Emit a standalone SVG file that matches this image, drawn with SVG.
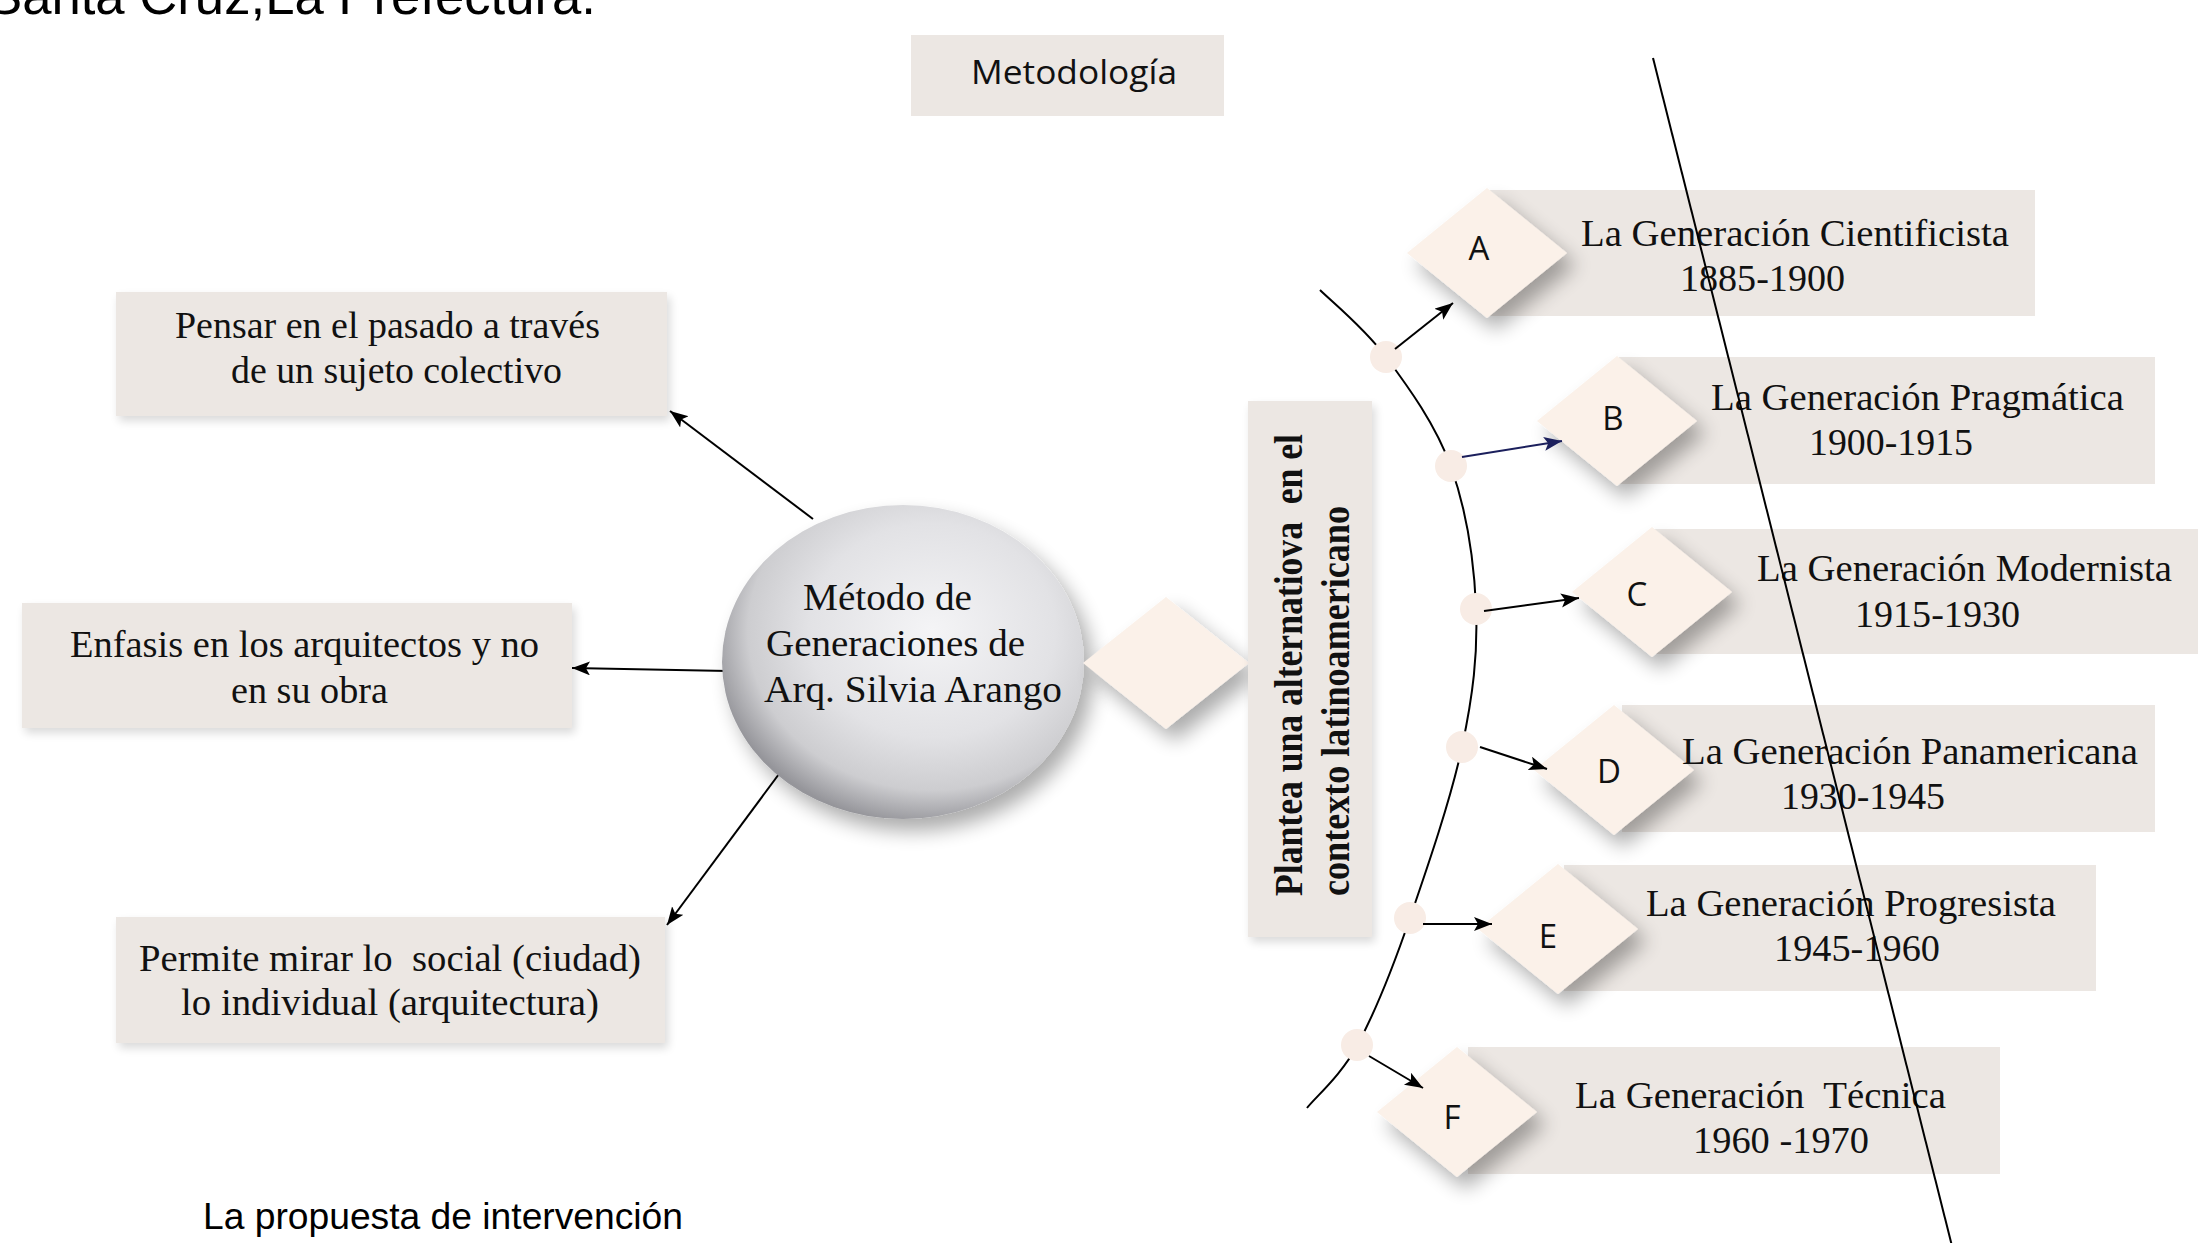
<svg xmlns="http://www.w3.org/2000/svg" width="2198" height="1243" viewBox="0 0 2198 1243">
<defs>
<style>
.box{fill:#ece7e3}
.dia{fill:#fbf1e9}
.ser{font-family:"Liberation Serif","Times New Roman",serif;font-size:38px;fill:#111}
.sans{font-family:"Open Sans","Noto Sans",sans-serif;font-size:33px;fill:#111}
.let{font-family:"Open Sans","Noto Sans",sans-serif;font-size:33px;fill:#111;text-anchor:middle}
.vt{font-family:"Liberation Serif","Times New Roman",serif;font-size:39px;font-weight:bold;fill:#111}
.ln{stroke:#000;stroke-width:2;fill:none}
.dot{fill:#f8ece5}
</style>
<filter id="sh" x="-30%" y="-30%" width="170%" height="180%">
<feGaussianBlur in="SourceAlpha" stdDeviation="10"/>
<feOffset dx="9" dy="12" result="o"/>
<feComponentTransfer><feFuncA type="linear" slope="0.33"/></feComponentTransfer>
<feMerge><feMergeNode/><feMergeNode in="SourceGraphic"/></feMerge>
</filter>
<filter id="sh2" x="-20%" y="-20%" width="140%" height="145%">
<feGaussianBlur in="SourceAlpha" stdDeviation="5"/>
<feOffset dx="3" dy="5"/>
<feComponentTransfer><feFuncA type="linear" slope="0.15"/></feComponentTransfer>
<feMerge><feMergeNode/><feMergeNode in="SourceGraphic"/></feMerge>
</filter>
<radialGradient id="eg" cx="0.58" cy="0.4" r="0.62">
<stop offset="0" stop-color="#f4f4f6"/>
<stop offset="0.55" stop-color="#e2e2e5"/>
<stop offset="0.82" stop-color="#cdcdd0"/>
<stop offset="1" stop-color="#95959a"/>
</radialGradient>
<marker id="ah" markerUnits="userSpaceOnUse" markerWidth="20" markerHeight="16" refX="18" refY="7" orient="auto">
<path d="M0,0 L18,7 L0,14 L4,7 z" fill="#000"/>
</marker>
<marker id="ahb" markerUnits="userSpaceOnUse" markerWidth="20" markerHeight="16" refX="18" refY="7" orient="auto">
<path d="M0,0 L18,7 L0,14 L4,7 z" fill="#1b1f5c"/>
</marker>
</defs>

<rect x="0" y="0" width="2198" height="1243" fill="#fff"/>

<g id="title">
<text x="-13" y="14" font-family="'Liberation Sans',Arial,sans-serif" font-size="52" textLength="609" lengthAdjust="spacingAndGlyphs" fill="#000">Santa Cruz,La Prefectura.</text>
</g>

<g id="metodologia">
<rect class="box" x="911" y="35" width="313" height="81"/>
<text class="sans" x="971" y="84" textLength="206" lengthAdjust="spacingAndGlyphs">Metodología</text>
</g>

<g id="pensar">
<rect class="box" x="116" y="292" width="551" height="124" filter="url(#sh2)"/>
<text class="ser" x="175" y="338" textLength="425" lengthAdjust="spacingAndGlyphs">Pensar en el pasado a través</text>
<text class="ser" x="231" y="383" textLength="331" lengthAdjust="spacingAndGlyphs">de un sujeto colectivo</text>
</g>

<g id="enfasis">
<rect class="box" x="22" y="603" width="550" height="125" filter="url(#sh2)"/>
<text class="ser" x="70" y="657" textLength="469" lengthAdjust="spacingAndGlyphs">Enfasis en los arquitectos y no</text>
<text class="ser" x="231" y="703" textLength="157" lengthAdjust="spacingAndGlyphs">en su obra</text>
</g>

<g id="permite">
<rect class="box" x="116" y="917" width="549" height="126" filter="url(#sh2)"/>
<text class="ser" x="139" y="971" textLength="502" lengthAdjust="spacingAndGlyphs" xml:space="preserve">Permite mirar lo  social (ciudad)</text>
<text class="ser" x="181" y="1015" textLength="418" lengthAdjust="spacingAndGlyphs">lo individual (arquitectura)</text>
</g>

<g id="connectors">
<line class="ln" x1="813" y1="519" x2="670" y2="411" marker-end="url(#ah)"/>
<line class="ln" x1="728" y1="671" x2="572" y2="668" marker-end="url(#ah)"/>
<line class="ln" x1="779" y1="774" x2="667" y2="925" marker-end="url(#ah)"/>
</g>

<g id="metodo">
<ellipse cx="903" cy="662" rx="181" ry="157" fill="url(#eg)" filter="url(#sh)"/>
<text class="ser" x="803" y="610" font-size="39" textLength="169" lengthAdjust="spacingAndGlyphs">Método de</text>
<text class="ser" x="766" y="656" font-size="39" textLength="259" lengthAdjust="spacingAndGlyphs">Generaciones de</text>
<text class="ser" x="764" y="702" font-size="39" textLength="298" lengthAdjust="spacingAndGlyphs">Arq. Silvia Arango</text>
</g>

<g id="hub">
<polygon class="dia" points="1166,597 1249,663 1166,729 1083,663" filter="url(#sh)"/>
</g>

<g id="plantea">
<rect class="box" x="1248" y="401" width="124" height="536" filter="url(#sh2)"/>
<text class="vt" transform="translate(1302,896) rotate(-90)" textLength="462" lengthAdjust="spacingAndGlyphs" xml:space="preserve">Plantea una alternatiova  en el</text>
<text class="vt" transform="translate(1349,896) rotate(-90)" textLength="390" lengthAdjust="spacingAndGlyphs">contexto latinoamericano</text>
</g>

<g id="gen-a">
<rect class="box" x="1490" y="190" width="545" height="126"/>
<polygon class="dia" points="1487,188 1567,253 1487,318 1407,253" filter="url(#sh)"/>
<text class="let" x="1479" y="260">A</text>
<text class="ser" x="1581" y="246" textLength="428" lengthAdjust="spacingAndGlyphs">La Generación Cientificista</text>
<text class="ser" x="1680" y="291" textLength="165" lengthAdjust="spacingAndGlyphs">1885-1900</text>
</g>

<g id="gen-b">
<rect class="box" x="1619" y="357" width="536" height="127"/>
<polygon class="dia" points="1617,356 1697,421 1617,486 1537,421" filter="url(#sh)"/>
<text class="let" x="1613" y="430">B</text>
<text class="ser" x="1711" y="410" textLength="413" lengthAdjust="spacingAndGlyphs">La Generación Pragmática</text>
<text class="ser" x="1809" y="455" textLength="164" lengthAdjust="spacingAndGlyphs">1900-1915</text>
</g>

<g id="gen-c">
<rect class="box" x="1650" y="529" width="548" height="125"/>
<polygon class="dia" points="1652,527 1732,592 1652,657 1572,592" filter="url(#sh)"/>
<text class="let" x="1637" y="606">C</text>
<text class="ser" x="1757" y="581" textLength="415" lengthAdjust="spacingAndGlyphs">La Generación Modernista</text>
<text class="ser" x="1855" y="627" textLength="165" lengthAdjust="spacingAndGlyphs">1915-1930</text>
</g>

<g id="gen-d">
<rect class="box" x="1622" y="705" width="533" height="127"/>
<polygon class="dia" points="1614,705 1694,770 1614,835 1534,770" filter="url(#sh)"/>
<text class="let" x="1609" y="783">D</text>
<text class="ser" x="1682" y="764" textLength="456" lengthAdjust="spacingAndGlyphs">La Generación Panamericana</text>
<text class="ser" x="1781" y="809" textLength="164" lengthAdjust="spacingAndGlyphs">1930-1945</text>
</g>

<g id="gen-e">
<rect class="box" x="1564" y="865" width="532" height="126"/>
<polygon class="dia" points="1558,864 1638,929 1558,994 1478,929" filter="url(#sh)"/>
<text class="let" x="1548" y="948">E</text>
<text class="ser" x="1646" y="916" textLength="410" lengthAdjust="spacingAndGlyphs">La Generación Progresista</text>
<text class="ser" x="1774" y="961" textLength="166" lengthAdjust="spacingAndGlyphs">1945-1960</text>
</g>

<g id="gen-f">
<rect class="box" x="1468" y="1047" width="532" height="127"/>
<polygon class="dia" points="1457,1047 1537,1112 1457,1177 1377,1112" filter="url(#sh)"/>
<text class="let" x="1452" y="1129">F</text>
<text class="ser" x="1575" y="1108" textLength="371" lengthAdjust="spacingAndGlyphs" xml:space="preserve">La Generación  Técnica</text>
<text class="ser" x="1693" y="1153" textLength="176" lengthAdjust="spacingAndGlyphs">1960 -1970</text>
</g>

<g id="timeline">
<path class="ln" d="M1320,290 C1331,301 1364,327.5 1386,357 C1408,386.5 1436,425 1451,467 C1466,509 1474,560 1476,607 C1478,654 1473,695 1462,747 C1451,799 1427,868.5 1410,918 C1393,967.5 1375,1012 1358,1044 C1341,1076 1315.5,1097 1307,1108"/>
<circle class="dot" cx="1386" cy="357" r="16"/>
<circle class="dot" cx="1451" cy="466" r="16"/>
<circle class="dot" cx="1476" cy="609" r="16"/>
<circle class="dot" cx="1462" cy="747" r="16"/>
<circle class="dot" cx="1410" cy="918" r="16"/>
<circle class="dot" cx="1357" cy="1045" r="16"/>
<line class="ln" x1="1395" y1="349" x2="1453" y2="303" marker-end="url(#ah)"/>
<line x1="1462" y1="457" x2="1562" y2="441" stroke="#1b1f5c" stroke-width="2" marker-end="url(#ahb)"/>
<line class="ln" x1="1484" y1="611" x2="1579" y2="598" marker-end="url(#ah)"/>
<line class="ln" x1="1480" y1="747" x2="1547" y2="769" marker-end="url(#ah)"/>
<line class="ln" x1="1423" y1="924" x2="1492" y2="924" marker-end="url(#ah)"/>
<line class="ln" x1="1369" y1="1056" x2="1423" y2="1088" marker-end="url(#ah)"/>
</g>

<g id="divider">
<line class="ln" x1="1653" y1="58" x2="1953" y2="1250"/>
</g>

<g id="footer">
<text x="203" y="1229" font-family="'Liberation Sans',Arial,sans-serif" font-size="36" textLength="480" lengthAdjust="spacingAndGlyphs" fill="#000">La propuesta de intervención</text>
</g>
</svg>
